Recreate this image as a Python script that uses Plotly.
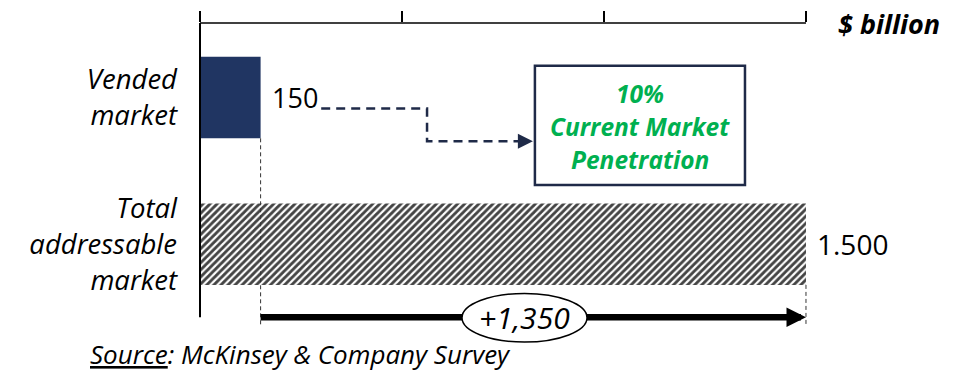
import plotly.graph_objects as go

# ---- data (US$ billion) ------------------------------------------------------
markets = ["Vended<br>market", "Total<br>addressable<br>market"]
market_size = [150, 1500]
axis_ticks = [0, 500, 1000, 1500]
box_caption = ["Current Market", "Penetration"]
source_note = "<u>Source</u>: McKinsey & Company Survey"
unit_label = "<b>$ billion</b>"

vended, total = market_size
headroom = total - vended
penetration = vended / total

# ---- styling -----------------------------------------------------------------
NAVY = "#203562"
LINK = "#1F2A48"
GREEN = "#00B050"
FONT = "Open Sans"

rows = [1, 0]            # vertical slot of each bar
BAR_W = 0.556
X_MAX = 1584.2           # axis runs a little past the last tick
Y_RANGE = [-0.722, 1.5085]
ARROW_Y = -0.498         # level of the "+1,350" arrow
GUIDE_END = -0.559       # lower end of the dashed guides

fig = go.Figure(
    go.Bar(
        y=rows,
        x=market_size,
        orientation="h",
        width=BAR_W,
        marker=dict(
            color=[NAVY, "white"],
            line=dict(width=0),
            pattern=dict(shape=["", "/"], fgcolor="black", fgopacity=1,
                         size=5, solidity=0.58),
        ),
        hoverinfo="skip",
    )
)

shapes = [
    # top axis line and left spine
    dict(type="line", xref="x", yref="paper", x0=0, x1=total, y0=1, y1=1,
         line=dict(color="black", width=1.5)),
    dict(type="line", xref="paper", yref="y", x0=0, x1=0, y0=Y_RANGE[1], y1=ARROW_Y,
         line=dict(color="black", width=2)),
    # dashed guides dropping from the bar ends
    dict(type="line", xref="x", yref="y", x0=vended, x1=vended,
         y0=rows[0] - BAR_W / 2, y1=GUIDE_END,
         line=dict(color="#333333", width=1, dash="4px,3px")),
    dict(type="line", xref="x", yref="y", x0=total, x1=total,
         y0=rows[1] - BAR_W / 2, y1=GUIDE_END,
         line=dict(color="#333333", width=1, dash="4px,3px")),
    # dashed connector from the vended value to the penetration box
    dict(type="path", xref="x", yref="y",
         path="M 300,0.925 L 562,0.925 L 562,0.702 L 800,0.702",
         line=dict(color=LINK, width=2.5, dash="9px,6px")),
    # penetration box
    dict(type="rect", xref="x", yref="y", x0=829, x1=1349, y0=0.403, y1=1.217,
         fillcolor="white", line=dict(color=LINK, width=2.5)),
    # headroom arrow shaft, then the label ellipse sitting on it
    dict(type="line", xref="x", yref="y", x0=vended, x1=total - 30, y0=ARROW_Y, y1=ARROW_Y,
         line=dict(color="black", width=6.5)),
    dict(type="circle", xref="x", yref="y", x0=648.5, x1=958, y0=-0.336, y1=-0.668,
         fillcolor="white", line=dict(color="black", width=1.5)),
]

annotations = [
    # arrow heads
    dict(x=total, y=ARROW_Y, ax=total - 45, ay=ARROW_Y, xref="x", yref="y",
         axref="x", ayref="y", text="", showarrow=True, arrowhead=2,
         arrowwidth=6.5, arrowsize=0.6, arrowcolor="black"),
    dict(x=824, y=0.702, ax=795, ay=0.702, xref="x", yref="y",
         axref="x", ayref="y", text="", showarrow=True, arrowhead=2,
         arrowwidth=2.5, arrowsize=1.2, arrowcolor=LINK),
    # value labels
    dict(x=vended, y=rows[0], xref="x", yref="y", xanchor="left", yanchor="middle",
         xshift=9, text=f"{vended:,}", showarrow=False,
         font=dict(family=FONT, size=27, color="black")),
    dict(x=total, y=rows[1], xref="x", yref="y", xanchor="left", yanchor="middle",
         xshift=9, text=f"{total:,}".replace(",", "."), showarrow=False,
         font=dict(family=FONT, size=28, color="black")),
    dict(x=803, y=ARROW_Y, xref="x", yref="y", xanchor="center", yanchor="middle",
         text=f"+{headroom:,}", showarrow=False,
         font=dict(family=FONT, size=30, color="black", style="italic")),
    # unit and source
    dict(x=1, y=1, xref="paper", yref="paper", xanchor="left", yanchor="middle",
         xshift=-4, yshift=0, text=unit_label, showarrow=False,
         font=dict(family=FONT, size=27, color="black", style="italic")),
    dict(x=-0.175, y=0, xref="paper", yref="paper", xanchor="left", yanchor="middle",
         yshift=-4, text=source_note, showarrow=False,
         font=dict(family=FONT, size=26, color="black", style="italic")),
]

# penetration box text, one annotation per line
box_lines = [f"{penetration:.0%}"] + box_caption
for y_line, line in zip([1.027, 0.803, 0.580], box_lines):
    annotations.append(
        dict(x=1089, y=y_line, xref="x", yref="y", xanchor="center", yanchor="middle",
             text=f"<b>{line}</b>", showarrow=False,
             font=dict(family=FONT, size=24.5, color=GREEN, style="italic"))
    )

fig.update_layout(
    width=969,
    height=378,
    margin=dict(l=200, r=129, t=21, b=28),
    paper_bgcolor="white",
    plot_bgcolor="white",
    showlegend=False,
    shapes=shapes,
    annotations=annotations,
    xaxis=dict(
        side="top",
        range=[0, X_MAX],
        tickvals=axis_ticks,
        showticklabels=False,
        ticks="outside",
        ticklen=11,
        tickwidth=1.5,
        tickcolor="black",
        showline=False,
        showgrid=False,
        zeroline=False,
    ),
    yaxis=dict(
        range=Y_RANGE,
        tickvals=rows,
        ticktext=markets,
        ticks="",
        ticklabelstandoff=22,
        tickfont=dict(family=FONT, size=27.5, color="black", style="italic"),
        showline=False,
        showgrid=False,
        zeroline=False,
    ),
)

fig.write_html("out.html")
